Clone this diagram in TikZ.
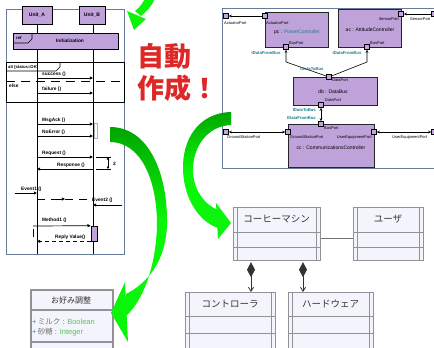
\documentclass[tikz,border=0pt]{standalone}
\usepackage{fontspec}
\setmainfont{Liberation Sans}
\newfontfamily\cjk{Noto Sans CJK JP}
\usetikzlibrary{arrows.meta,calc}
\definecolor{slatec}{RGB}{105,125,155}
\definecolor{lav}{RGB}{192,162,218}
\definecolor{portc}{RGB}{196,166,222}
\definecolor{tealc}{RGB}{30,125,135}
\definecolor{gdark}{RGB}{0,165,0}
\definecolor{glime}{RGB}{10,245,10}
\definecolor{redj}{RGB}{222,40,40}
\definecolor{clsfill}{RGB}{244,244,252}
\definecolor{clsline}{RGB}{145,145,150}
\definecolor{plusc}{RGB}{70,130,200}
\definecolor{typec}{RGB}{80,200,80}
\begin{document}
\begin{tikzpicture}[x=1pt,y=-1pt,
  seqframe/.style={draw=slatec,line width=0.9pt},
  unitbox/.style={draw=black,fill=lav,line width=0.8pt,inner sep=0pt},
  seqtxt/.style={font=\fontsize{4.8}{5}\selectfont\bfseries,inner sep=0pt},
  lifeline/.style={line width=0.7pt},
  msg/.style={line width=0.7pt,-{Triangle[length=3.2pt,width=3pt]}},
  comp/.style={draw=black!85,fill=lav,line width=0.9pt,inner sep=0pt},
  port/.style={draw=black,fill=portc,line width=0.6pt,minimum size=5pt,inner sep=0pt,rectangle},
  plbl/.style={font=\fontsize{4}{4.5}\selectfont,inner sep=0pt},
  iface/.style={font=\fontsize{4.2}{4.5}\selectfont\bfseries,text=tealc,inner sep=0pt},
  ctxt/.style={font=\fontsize{5}{6}\selectfont,inner sep=0pt},
  conn/.style={line width=0.6pt},
  ctip/.style={-{Stealth[length=3pt,width=2.6pt]}},
  btip/.style={{Stealth[length=3pt,width=2.6pt]}-{Stealth[length=3pt,width=2.6pt]}},
  cls/.style={draw=clsline,fill=clsfill,line width=1.2pt,inner sep=0pt},
  clsin/.style={draw=clsline,line width=0.8pt},
  clstxt/.style={font=\cjk\fontsize{9.5}{10}\selectfont,text=black!80,inner sep=0pt},
  attr/.style={font=\fontsize{7.5}{8}\selectfont,inner sep=0pt},
]
\useasboundingbox (0,0) rectangle (434,348);
\clip (0,0) rectangle (434,348);
\fill[white] (0,0) rectangle (434,348);

% ================= sequence diagram =================
\draw[seqframe] (6,9) rectangle (124,254);
\coordinate (la) at (37,24);
\coordinate (lb) at (93,24);
\draw[lifeline] (la) -- (la |- 0,254);
\draw[lifeline] (lb) -- (lb |- 0,254);
\node[unitbox,minimum width=30pt,minimum height=18pt,font=\fontsize{5}{6}\selectfont\bfseries] (ua) at (37,15) {Unit\_A};
\node[unitbox,minimum width=26pt,minimum height=18pt,font=\fontsize{5}{6}\selectfont\bfseries] (ub) at (92,15) {Unit\_B};

\node[unitbox,minimum width=105pt,minimum height=16pt] (refb) at (65.5,41) {};
\draw[line width=0.7pt] (13,43) -- (28,43) -- (32,39) -- (32,33);
\node[seqtxt,font=\fontsize{4.2}{5}\selectfont\bfseries,anchor=base west] at (16,39.5) {ref};
\node[seqtxt,anchor=base] at (70,42.5) {Initialization};

\draw[line width=0.8pt] (6,62) rectangle (124,102);
\draw[line width=0.7pt] (6,71) -- (56,71) -- (60,67) -- (60,62);
\node[seqtxt,font=\fontsize{4.2}{5}\selectfont\bfseries,anchor=base west] at (8,68.5) {alt [status=OK]};
\draw[line width=0.9pt,dash pattern=on 9pt off 6pt] (6,81) -- (124,81);
\node[seqtxt,anchor=base west] at (9,87.5) {else};

\draw[msg] (la |- 0,78) -- (lb |- 0,78);
\node[seqtxt,anchor=base west] at (42,75.5) {success ()};
\draw[msg] (la |- 0,93) -- (lb |- 0,93);
\node[seqtxt,anchor=base west] at (42,90.5) {failure ()};

\node[draw=black!30,fill=white,line width=0.6pt,minimum width=3pt,minimum height=15pt,inner sep=0pt] (gbar) at (95.5,130.5) {};
\draw[msg] (la |- 0,124) -- (lb |- 0,124);
\node[seqtxt,anchor=base west] at (42,121.5) {MsgAck ()};
\draw[msg] (la |- 0,136) -- (lb |- 0,136);
\node[seqtxt,anchor=base west] at (42,133.5) {NoError ()};

\draw[msg] (la |- 0,157) -- (lb |- 0,157);
\node[seqtxt,anchor=base west] at (42,154.5) {Request ()};
\draw[msg] (lb |- 0,169) -- (la |- 0,169);
\node[seqtxt,anchor=base west] at (57,166.5) {Response ()};
\draw[line width=0.6pt] (96,157) -- (111,157) (96,169) -- (111,169);
\draw[line width=0.7pt,{Triangle[length=2.5pt,width=2.5pt]}-{Triangle[length=2.5pt,width=2.5pt]}] (108,157) -- (108,169);
\node[seqtxt,anchor=base west] at (113,165) {2};

\coordinate (ev1) at (15,193);
\draw[msg] (ev1) -- (la |- ev1);
\node[seqtxt,anchor=base west] at (21,190.5) {Event1 ()};
\draw[line width=0.8pt,dash pattern=on 8pt off 6pt] (la |- 0,199) -- (lb |- 0,199);
\draw[line width=0.7pt,-{Triangle[length=3.2pt,width=3pt]}] (58,199) -- (65,199);
\coordinate (ev2) at (122,205);
\draw[msg] (ev2) -- (lb |- ev2);
\node[seqtxt,anchor=base west] at (92,201.5) {Event2 ()};

\node[draw=black,fill=lav,line width=0.6pt,minimum width=6pt,minimum height=15pt,inner sep=0pt] (act) at (94,233.5) {};
\coordinate (m1) at (33,226);
\draw[msg] (m1) -- (act.north west);
\node[seqtxt,anchor=base west] at (42,221.5) {Method1 ()};
\draw[line width=1pt] (33,229) -- (33,237);
\draw[line width=0.7pt,dash pattern=on 4pt off 3pt,-{Triangle[length=3.2pt,width=3pt]}] (act.south west) -- (la |- act.south);
\node[seqtxt,anchor=base west] at (55,238.5) {Reply Value()};

% ================= red text =================
\node[font=\cjk\bfseries\fontsize{27}{30}\selectfont,text=redj,anchor=base west,inner sep=0pt] (jp1) at (137,66) {自動};
\node[font=\cjk\bfseries\fontsize{27}{30}\selectfont,text=redj,anchor=base west,inner sep=0pt] (jp2) at (137,98) {作成！};

% ================= composite structure diagram =================
\draw[seqframe] (440,8) -- (222,8) -- (222,168) -- (440,168);
\node[comp,minimum width=63pt,minimum height=35pt] (pc) at (296.5,29.5) {};
\node[comp,minimum width=63pt,minimum height=38pt] (ac) at (369.5,28) {};
\node[comp,minimum width=84pt,minimum height=28pt] (db) at (335,91) {};
\node[comp,minimum width=86pt,minimum height=43pt] (cc) at (331,145.5) {};

\node[port] (pA) at (265,16) {};
\node[port] (xA) at (226,16) {};
\node[port] (pB) at (286,47) {};
\node[port] (aB) at (367,47) {};
\node[port] (aS) at (401,14) {};
\node[port] (xS) at (434,14) {};
\node[port] (dT) at (329,77) {};
\node[port] (dB) at (321,105) {};
\node[port] (cB) at (321,124) {};
\node[port] (cG) at (288,132) {};
\node[port] (xG) at (226,132) {};
\node[port] (cU) at (374,132) {};
\node[port] (xU) at (434,132) {};

\coordinate (bL) at (286,62);
\coordinate (bR) at (367,62);
\draw[conn,ctip] (pA) -- (xA);
\draw[conn,ctip] (xS) -- (aS);
\draw[conn,ctip] (dT) -- (bL) -- (pB);
\draw[conn,ctip] (dT) -- (bR) -- (aB);
\draw[conn,btip] (dB) -- (cB);
\draw[conn,btip] (xG) -- (cG);
\draw[conn,btip] (cU) -- (xU);

\node[ctxt,anchor=base] at (297,33.5) {pc : \textcolor{tealc}{PowerController}};
\node[ctxt,anchor=base] at (370,31.5) {ac : AttitudeController};
\node[ctxt,anchor=base] at (333,93.5) {db : DataBus};
\node[ctxt,anchor=base] at (331,149.5) {cc : CommunicationsController};

\node[plbl,anchor=base west] at (224,24) {ActuatorPort};
\node[plbl,anchor=base west] at (266,24) {ActuatorPort};
\node[plbl,anchor=base west] at (289,44) {BusPort};
\node[plbl,anchor=base west] at (370,44) {BusPort};
\node[plbl,anchor=base east] at (399,20.5) {SensorPort};
\node[plbl,anchor=base west] at (410,20.5) {SensorPort};
\node[iface,anchor=base] at (266,54) {IDataFromBus};
\node[iface,anchor=base] at (347,54) {IDataFromBus};
\node[iface,anchor=base] at (312,70.5) {IDataToBus};
\node[plbl,anchor=base west] at (332,81.5) {DataPort};
\node[plbl,anchor=base west] at (325,101.5) {DataPort};
\node[iface,anchor=base east] at (316,111.5) {IDataToBus};
\node[iface,anchor=base east] at (316,119.5) {IDataFromBus};
\node[plbl,anchor=base west] at (324,129) {BusPort};
\node[plbl,anchor=base west] at (227,138.5) {GroundStationPort};
\node[plbl,anchor=base west] at (290,138.5) {GroundStationPort};
\node[plbl,anchor=base east] at (372,138.5) {UserEquipmentPort};
\node[plbl,anchor=base west] at (392,138.5) {UserEquipmentPort};

% ================= class diagram =================
\node[cls,minimum width=87pt,minimum height=53pt,anchor=north west] (cm) at (233,207) {};
\draw[clsin] (237,207) -- (237,260) (316,207) -- (316,260) (233,232) -- (320,232) (233,247) -- (320,247);
\node[clstxt] at (276.5,219) {コーヒーマシン};

\node[cls,minimum width=70pt,minimum height=53pt,anchor=north west] (usr) at (353,207) {};
\draw[clsin] (357,207) -- (357,260) (419,207) -- (419,260) (353,232) -- (423,232) (353,247) -- (423,247);
\node[clstxt] at (388,219) {ユーザ};

\node[cls,minimum width=90pt,minimum height=70pt,anchor=north west] (ctl) at (185,292) {};
\draw[clsin] (189,292) -- (189,362) (271,292) -- (271,362) (185,316) -- (275,316) (185,333) -- (275,333);
\node[clstxt] at (230,304) {コントローラ};

\node[cls,minimum width=85pt,minimum height=70pt,anchor=north west] (hw) at (288,292) {};
\draw[clsin] (292,292) -- (292,362) (369,292) -- (369,362) (288,316) -- (373,316) (288,333) -- (373,333);
\node[clstxt] at (330.5,304) {ハードウェア};

\draw[line width=0.9pt,draw=black!55] (cm.east |- 0,238) -- (usr.west |- 0,238);
\draw[line width=0.8pt,draw=black!80,{Diamond[length=15pt,width=8pt]}-{Straight Barb[length=4pt,width=5pt]}] (cm.south -| 251,0) ++(0,1) -- (ctl.north -| 251,0);
\draw[line width=0.8pt,draw=black!80,{Diamond[length=15pt,width=8pt]}-{Straight Barb[length=4pt,width=5pt]}] (cm.south -| 303,0) ++(0,1) -- (hw.north -| 303,0);

\node[cls,line width=1.6pt,minimum width=82pt,minimum height=70pt,anchor=north west] (pref) at (30,289) {};
\draw[clsin,line width=1.2pt] (30,310) -- (112,310) (30,342) -- (112,342);
\node[clstxt,font=\cjk\fontsize{8}{9}\selectfont] at (71,300) {お好み調整};
\node[attr,anchor=base west] at (32,324) {\textcolor{plusc}{+}\,\textcolor{black!55}{{\cjk ミルク} :} \textcolor{typec}{Boolean}};
\node[attr,anchor=base west] at (32,334) {\textcolor{plusc}{+}\,\textcolor{black!55}{{\cjk 砂糖} :} \textcolor{typec}{Integer}};

% ================= green arrows =================
\shade[top color=gdark,bottom color=glime,middle color=glime]
  (110,127) .. controls (148,127) and (168,172) .. (167,225)
  .. controls (166,258) and (150,282) .. (126,294) -- (126,316)
  .. controls (142,302) and (156,268) .. (157,225)
  .. controls (157,178) and (140,142) .. (110,142) -- cycle;
\fill[glime] (125,282) -- (111,313) -- (128,342) -- cycle;

\shade[top color=gdark,bottom color=glime,middle color=glime]
  (231,112) .. controls (198,113) and (182,140) .. (183,170)
  .. controls (184,200) and (200,222) .. (218,228) -- (218,210)
  .. controls (205,205) and (193,190) .. (193,170)
  .. controls (193,147) and (207,126) .. (231,125) -- cycle;
\fill[glime] (216,203) -- (231,223) -- (218,239) -- cycle;

\fill[glime] (145,-2) -- (155,-2) .. controls (152,6) and (147,11) .. (141,16) -- (135,11) .. controls (140,7) and (143,3) .. (145,-2) -- cycle;
\fill[glime] (127,11) -- (134,30) -- (146,19) -- cycle;
\end{tikzpicture}
\end{document}
